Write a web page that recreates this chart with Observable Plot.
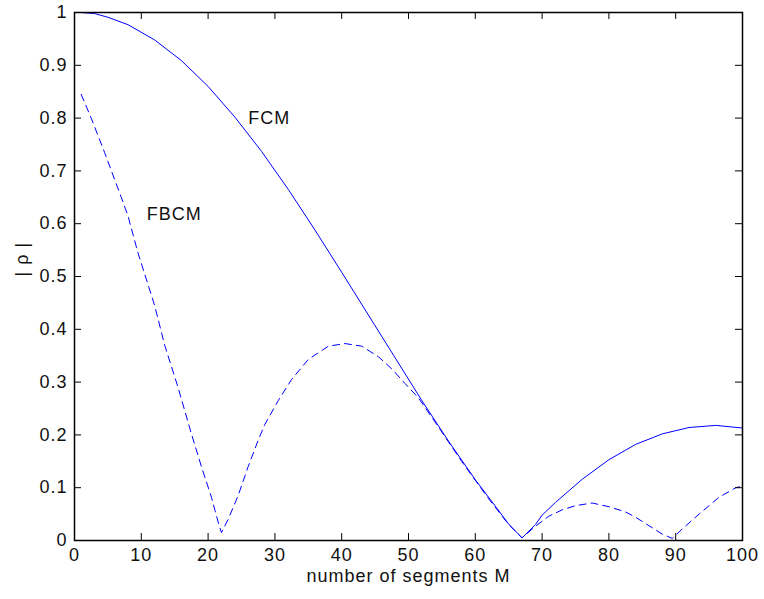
<!DOCTYPE html>
<html>
<head>
<meta charset="utf-8">
<script src="https://cdn.jsdelivr.net/npm/d3@7"></script>
<script src="https://cdn.jsdelivr.net/npm/@observablehq/plot@0.6"></script>
<style>
  html, body { margin: 0; padding: 0; background: #fff; }
  #chart svg { display: block; }
  #chart svg text { letter-spacing: 1px; }
</style>
</head>
<body>
<div id="chart"></div>
<script>
// ---- data ----
const xTicks = [0, 10, 20, 30, 40, 50, 60, 70, 80, 90, 100];
const yTicks = [0, 0.1, 0.2, 0.3, 0.4, 0.5, 0.6, 0.7, 0.8, 0.9, 1];

const mFCM = [1, 3, 5, 8, 12, 16, 20, 24, 28, 32, 36, 40, 44, 48, 52, 56, 60, 63, 65, 67, 69, 70, 72, 76, 80, 84, 88, 92, 96, 100];
const fcm  = [1.0, 0.998, 0.991, 0.977, 0.948, 0.909, 0.860, 0.802, 0.737, 0.665, 0.588, 0.508, 0.427, 0.346, 0.265, 0.188, 0.115, 0.065, 0.031, 0.005, 0.030, 0.048, 0.072, 0.116, 0.153, 0.182, 0.202, 0.214, 0.218, 0.213];

const mFBCM = [1, 2.5, 4.5, 7, 8, 9.5, 12, 13.5, 15.5, 17.5, 19, 20.5, 21.5, 22, 23, 24.5, 26, 27.5, 28.5, 30.5, 32.5, 35, 38, 40.5, 43, 45.5, 47.5, 49.5, 51.5, 54, 58, 62, 65, 67, 69, 71, 73, 75, 77.5, 80, 82.5, 84, 86, 88, 89.5, 91, 93.5, 96.5, 99, 100];
const fbcm  = [0.845, 0.80, 0.735, 0.65, 0.615, 0.545, 0.445, 0.37, 0.29, 0.202, 0.14, 0.082, 0.035, 0.015, 0.04, 0.085, 0.14, 0.19, 0.22, 0.265, 0.305, 0.343, 0.368, 0.373, 0.368, 0.348, 0.325, 0.297, 0.27, 0.224, 0.149, 0.079, 0.030, 0.005, 0.027, 0.046, 0.058, 0.066, 0.071, 0.064, 0.054, 0.044, 0.028, 0.012, 0.004, 0.022, 0.050, 0.082, 0.100, 0.103];

const annotations = [
  {text: "FCM",  M: 26,   rho: 0.80},
  {text: "FBCM", M: 10.8, rho: 0.617}
];
const xLabel = "number of segments M";
const yLabel = "| ρ |";

// ---- build tables ----
const fcmData  = mFCM.map((m, i) => ({M: m, rho: fcm[i]}));
const fbcmData = mFBCM.map((m, i) => ({M: m, rho: fbcm[i]}));

const W = 764, H = 599;
const mt = 12, mr = 22, mb = 59, ml = 74;
const pw = W - ml - mr, ph = H - mt - mb;
const tick = 7;
const font = "'Liberation Sans', Arial, Helvetica, sans-serif";
const ink = "#111";

const chart = Plot.plot({
  width: W,
  height: H,
  marginTop: mt, marginRight: mr, marginBottom: mb, marginLeft: ml,
  style: {fontFamily: font, fontSize: "18px", color: ink, background: "#fff"},
  x: {domain: [0, 100], axis: null},
  y: {domain: [0, 1], axis: null},
  marks: [
    // curves
    Plot.line(fcmData, {x: "M", y: "rho", stroke: "#0000ff", strokeWidth: 1}),
    Plot.line(fbcmData, {x: "M", y: "rho", stroke: "#0000ff", strokeWidth: 1, strokeDasharray: "7,5"}),
    // inward ticks on all four sides
    Plot.ruleX(xTicks, {stroke: "#000", strokeWidth: 1, insetTop: ph - tick}),
    Plot.ruleX(xTicks, {stroke: "#000", strokeWidth: 1, insetBottom: ph - tick}),
    Plot.ruleY(yTicks, {stroke: "#000", strokeWidth: 1, insetRight: pw - tick}),
    Plot.ruleY(yTicks, {stroke: "#000", strokeWidth: 1, insetLeft: pw - tick}),
    // tick labels
    Plot.axisX(xTicks, {anchor: "bottom", tickSize: 0, tickPadding: 8, label: null, fontSize: 18, fill: ink}),
    Plot.axisY(yTicks, {anchor: "left", tickSize: 0, tickPadding: 7, label: null, fontSize: 18, fill: ink, tickFormat: d3.format("~g")}),
    // frame
    Plot.frame({stroke: "#000", strokeWidth: 1.5}),
    // annotations
    Plot.text(annotations, {x: "M", y: "rho", text: "text", textAnchor: "start", fontSize: 18, fill: ink}),
    // axis labels
    Plot.text([xLabel], {frameAnchor: "bottom", dy: 41, fontSize: 18, fill: ink}),
    Plot.text([yLabel], {frameAnchor: "left", dx: -52, rotate: -90, fontSize: 18, fill: ink})
  ]
});

document.getElementById("chart").appendChild(chart);
</script>
</body>
</html>
